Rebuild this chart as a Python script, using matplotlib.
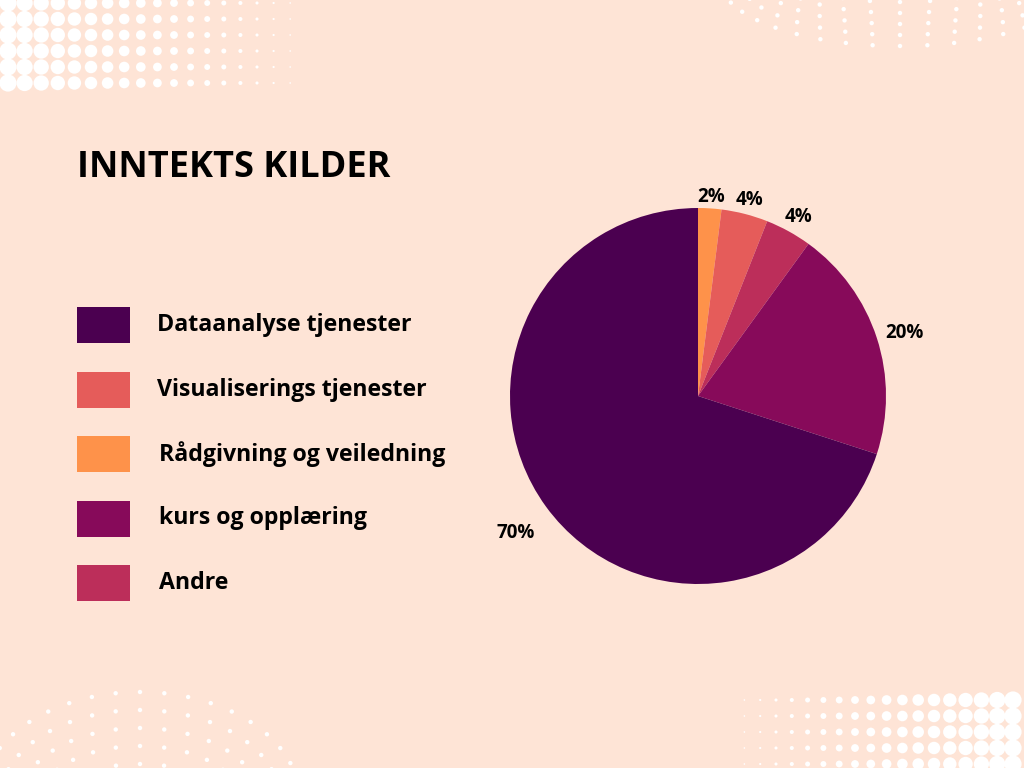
import numpy as np
import matplotlib
matplotlib.use("Agg")
from matplotlib import pyplot as plt
from matplotlib.patches import Rectangle, Circle

# Data (clockwise from 12 o'clock, as in the picture)
kategorier = ["Rådgivning og veiledning", "Visualiserings tjenester", "Andre",
              "kurs og opplæring", "Dataanalyse tjenester"]
andeler = [2, 4, 4, 20, 70]
farger = ["#FE924A", "#E55C5A", "#BC2E5A", "#870A5A", "#4B0050"]

# legend order (top to bottom)
legend_navn = ["Dataanalyse tjenester", "Visualiserings tjenester",
               "Rådgivning og veiledning", "kurs og opplæring", "Andre"]

bg = "#FEE4D6"
W, H = 1024, 768

plt.rcParams['font.family'] = ['Open Sans', 'DejaVu Sans']

fig = plt.figure(figsize=(10.24, 7.68), dpi=100)
fig.patch.set_facecolor(bg)
ax = fig.add_axes([0, 0, 1, 1])
ax.set_facecolor(bg)

def Y(y):
    return H - y

# decorative halftone dots, top left and bottom right
for r in range(6):
    for c in range(18):
        x = 8 + c * 16.6
        rad = max(8.6 - c * 0.47, 0.8)
        ax.add_patch(Circle((x, Y(3 + r * 16)), rad, color="white", lw=0, zorder=1))
        ax.add_patch(Circle((1013 - c * 15.8, Y(700 + r * 16)), rad, color="white", lw=0, zorder=1))

# decorative scattered arcs, top right and bottom left
for i, rr in enumerate([60, 80, 100, 120, 140]):
    n = 9 + i * 2
    for a in np.linspace(200, 340, n):
        x = 900 + (rr + 40) * np.cos(np.radians(a))
        y = -20 - (rr - 20) * np.sin(np.radians(a)) * 0.55
        ax.add_patch(Circle((x, Y(y)), 2.2, color="white", lw=0, zorder=1))
        x2 = 140 + (rr + 20) * np.cos(np.radians(a))
        y2 = 800 + (rr - 20) * np.sin(np.radians(a)) * 0.9
        ax.add_patch(Circle((x2, Y(y2)), 2.2, color="white", lw=0, zorder=1))

# title
ax.text(77, Y(168), "INNTEKTS KILDER", fontsize=26, fontweight="bold",
        color="black", va="center", ha="left")

# legend
for i, navn in enumerate(legend_navn):
    yc = 325 + i * 64.5
    farge = farger[kategorier.index(navn)]
    ax.add_patch(Rectangle((77, Y(yc + 18)), 53, 36, color=farge, lw=0, zorder=2))
    tx = 157 if i < 2 else 159
    ax.text(tx, Y(yc), navn, fontsize=16.7, fontweight="bold", color="black",
            va="center", ha="left")

# pie
cx, cy, R = 698, Y(396), 188
wedges, _ = ax.pie(andeler, colors=farger, startangle=90, counterclock=False,
                   center=(cx, cy), radius=R, frame=True,
                   wedgeprops=dict(linewidth=0))
avstand = [1.08, 1.1, 1.11, 1.155, 1.2]
for w, v, d in zip(wedges, andeler, avstand):
    mid = np.radians((w.theta1 + w.theta2) / 2)
    ax.text(cx + d * R * np.cos(mid), cy + d * R * np.sin(mid) - 4, f"{v}%",
            fontsize=13.5, fontweight="bold", ha="center", va="center", color="black")

ax.set_xlim(0, W)
ax.set_ylim(0, H)
ax.set_aspect("auto")
ax.axis("off")

fig.savefig("out.png", dpi=100, facecolor=bg)
